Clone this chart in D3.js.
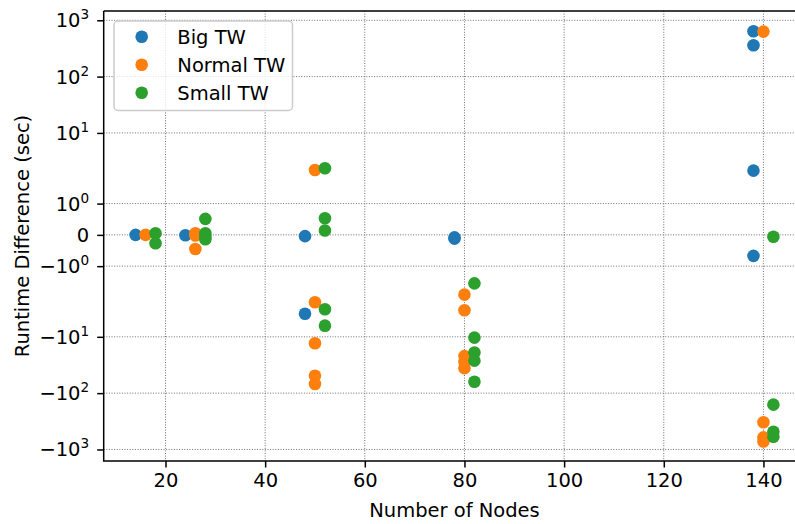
<!DOCTYPE html>
<html>
<head>
<meta charset="utf-8">
<script src="https://cdn.jsdelivr.net/npm/d3@7"></script>
<style>
  body { margin: 0; background: #fff; }
  svg { display: block; font-family: "DejaVu Sans", sans-serif; }
</style>
</head>
<body>
<div id="chart"></div>
<script>
(function() {
  var width = 795,
    height = 524;

  // data
  var bigTwX = [14, 24, 48, 48, 78, 78, 138, 138, 138, 138];
  var bigTwY = [0, -0.01, -0.04, -3.9, -0.08, -0.12, 640, 360, 2.14, -0.67];

  var normalTwX = [16, 26, 26, 26, 50, 50, 50, 50, 50, 80, 80, 80, 80, 80, 140, 140, 140, 140];
  var normalTwY = [0, 0.05, -0.02, -0.45, 2.2, -2.44, -13, -49, -69, -1.91, -3.38, -22, -28, -36, 630, -329, -610, -724];

  var smallTwX = [18, 18, 28, 28, 28, 28, 52, 52, 52, 52, 52, 82, 82, 82, 82, 82, 142, 142, 142, 142];
  var smallTwY = [0.05, -0.27, 0.51, 0.05, -0.05, -0.14, 2.36, 0.53, 0.14, -3.24, -6.34, -1.55, -10.35, -19, -26.5, -62.6, -0.06, -160, -484, -593];

  var seriesNames = ["Big TW", "Normal TW", "Small TW"];
  var seriesColors = ["#1f77b4", "#ff7f0e", "#2ca02c"];
  var xTicks = [20, 40, 60, 80, 100, 120, 140];
  var yTicks = [-1000, -100, -10, -1, 0, 1, 10, 100, 1000];

  var series = [
    {name: seriesNames[0], color: seriesColors[0], x: bigTwX, y: bigTwY},
    {name: seriesNames[1], color: seriesColors[1], x: normalTwX, y: normalTwY},
    {name: seriesNames[2], color: seriesColors[2], x: smallTwX, y: smallTwY}
  ];

  // matplotlib style symlog, linthresh 2, linscale 1
  var linthresh = 2, linscaleAdj = 1 / (1 - 0.1);
  function symT(v) {
    var a = Math.abs(v);
    if (a <= linthresh) return v * linscaleAdj;
    return Math.sign(v) * linthresh * (linscaleAdj + Math.log10(a / linthresh));
  }

  var left = 103.7, right = 805.3, top = 11, bottom = 461;
  var fs = 19.5;

  var x = d3.scaleLinear().domain([7.6, 148.4]).range([left, right]);
  var yT = d3.scaleLinear().domain([-8.03, 7.95]).range([bottom, top]);
  function y(v) { return yT(symT(v)); }

  var svg = d3.select("#chart")
    .append("svg")
    .attr("width", width)
    .attr("height", height);

  // grid
  var grid = svg.append("g").attr("class", "grid");
  grid.selectAll(".vgrid")
    .data(xTicks)
    .enter().append("line")
    .attr("x1", function(d) { return x(d); })
    .attr("x2", function(d) { return x(d); })
    .attr("y1", top)
    .attr("y2", bottom)
    .attr("stroke", "#6e6e6e")
    .attr("stroke-width", 1)
    .attr("stroke-dasharray", "1,1.6");
  grid.selectAll(".hgrid")
    .data(yTicks)
    .enter().append("line")
    .attr("x1", left)
    .attr("x2", right)
    .attr("y1", function(d) { return y(d); })
    .attr("y2", function(d) { return y(d); })
    .attr("stroke", "#6e6e6e")
    .attr("stroke-width", 1)
    .attr("stroke-dasharray", "1,1.6");

  // points
  series.forEach(function(s) {
    svg.append("g").selectAll("circle")
      .data(s.x.map(function(d, i) { return [d, s.y[i]]; }))
      .enter().append("circle")
      .attr("cx", function(d) { return x(d[0]); })
      .attr("cy", function(d) { return y(d[1]); })
      .attr("r", 6.3)
      .attr("fill", s.color);
  });

  // axes
  var xAxis = svg.append("g")
    .attr("transform", "translate(0," + bottom + ")")
    .call(d3.axisBottom(x).tickValues(xTicks).tickSize(6.5).tickPadding(6).tickSizeOuter(0));
  xAxis.select(".domain").remove();
  xAxis.selectAll(".tick line").attr("stroke", "#000").attr("stroke-width", 1.5);
  xAxis.selectAll(".tick text")
    .attr("font-size", fs)
    .attr("font-family", "DejaVu Sans")
    .attr("fill", "#000");

  var yAxis = svg.append("g")
    .attr("transform", "translate(" + left + ",0)")
    .call(d3.axisLeft(yT).tickValues(yTicks.map(symT)).tickSize(6.5).tickFormat("").tickSizeOuter(0));
  yAxis.select(".domain").remove();
  yAxis.selectAll(".tick line").attr("stroke", "#000").attr("stroke-width", 1.5);

  // y tick labels with superscripts
  var yLab = svg.append("g")
    .attr("font-size", fs)
    .attr("fill", "#000")
    .attr("text-anchor", "end");
  yTicks.forEach(function(v) {
    var t = yLab.append("text")
      .attr("x", left - 14.5)
      .attr("y", y(v) + 7);
    if (v === 0) {
      t.text("0");
      return;
    }
    var e = Math.round(Math.log10(Math.abs(v)));
    t.append("tspan").text((v < 0 ? "\u2212" : "") + "10");
    t.append("tspan").attr("dy", -8).attr("font-size", 13.6).text(String(e));
  });

  // spines
  svg.append("path")
    .attr("d", "M" + left + "," + top + "H" + right + "M" + left + "," + top + "V" + bottom + "H" + right)
    .attr("fill", "none")
    .attr("stroke", "#000")
    .attr("stroke-width", 1.5);

  // axis labels
  svg.append("text")
    .attr("x", (left + right) / 2)
    .attr("y", 517)
    .attr("text-anchor", "middle")
    .attr("font-size", fs)
    .text("Number of Nodes");

  svg.append("text")
    .attr("transform", "translate(29," + ((top + bottom) / 2) + ") rotate(-90)")
    .attr("text-anchor", "middle")
    .attr("font-size", fs)
    .text("Runtime Difference (sec)");

  // legend
  var legend = svg.append("g");
  legend.append("rect")
    .attr("x", 114)
    .attr("y", 21)
    .attr("width", 178.5)
    .attr("height", 89.5)
    .attr("rx", 4)
    .attr("fill", "#fff")
    .attr("fill-opacity", 0.8)
    .attr("stroke", "#cccccc")
    .attr("stroke-width", 1.5);
  var items = legend.selectAll(".item")
    .data(series)
    .enter().append("g")
    .attr("transform", function(d, i) { return "translate(0," + (36.7 + i * 28) + ")"; });
  items.append("circle")
    .attr("cx", 141.7)
    .attr("cy", 0)
    .attr("r", 6.3)
    .attr("fill", function(d) { return d.color; });
  items.append("text")
    .attr("x", 177.3)
    .attr("y", 7)
    .attr("font-size", fs)
    .text(function(d) { return d.name; });
})();
</script>
</body>
</html>
